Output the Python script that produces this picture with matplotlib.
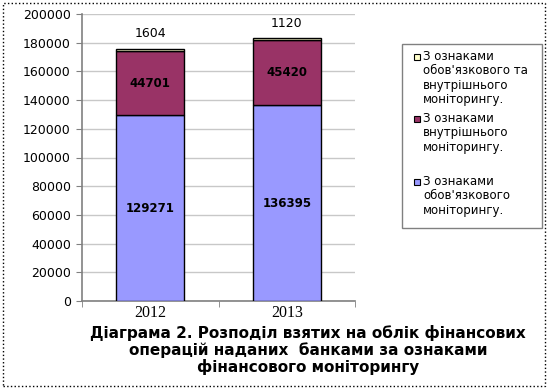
import matplotlib
matplotlib.use("Agg")
import matplotlib.pyplot as plt
from matplotlib.patches import Rectangle
import numpy as np

years = ["2012", "2013"]
mandatory = [129271, 136395]
internal = [44701, 45420]
both = [1604, 1120]
legend_labels = [
    "З ознаками\nобов'язкового та\nвнутрішнього\nмоніторингу.",
    "З ознаками\nвнутрішнього\nмоніторингу.",
    "З ознаками\nобов'язкового\nмоніторингу.",
]
caption = ("Діаграма 2. Розподіл взятих на облік фінансових\n"
           "операцій наданих  банками за ознаками\n"
           "фінансового моніторингу")
yticks = list(range(0, 200001, 20000))

c_blue = "#9999FF"
c_maroon = "#993366"
c_yellow = "#FFFFCC"

plt.rcParams['font.family'] = ['DejaVu Sans']

W, H = 548, 389
def fx(px):
    return px / W
def fy(py):
    return 1 - py / H

fig = plt.figure(figsize=(5.48, 3.89), dpi=100)
ax = fig.add_axes([fx(82), fy(301), (355-82)/W, (301-14)/H])

x = np.arange(len(years))
w = 0.5
m = np.array(mandatory); i = np.array(internal); b = np.array(both)
ax.bar(x, m, w, color=c_blue, edgecolor="black", linewidth=1.0, zorder=3)
ax.bar(x, i, w, bottom=m, color=c_maroon, edgecolor="black", linewidth=1.0, zorder=3)
ax.bar(x, b, w, bottom=m+i, color=c_yellow, edgecolor="black", linewidth=1.0, zorder=3)

for k in range(len(years)):
    ax.text(x[k], m[k]/2, f"{mandatory[k]}", ha="center", va="center",
            fontsize=8.5, fontweight="bold", zorder=4)
    ax.text(x[k], m[k] + i[k]/2, f"{internal[k]}", ha="center", va="center",
            fontsize=8.5, fontweight="bold", zorder=4)
    ax.annotate(f"{both[k]}", (x[k], m[k]+i[k]+b[k]), xytext=(0, 11),
                textcoords="offset points", ha="center", va="center",
                fontsize=9, zorder=4, annotation_clip=False)

ax.set_xlim(-0.5, 1.5)
ax.set_ylim(0, 200000)
ax.set_yticks(yticks)
ax.set_yticklabels([str(v) for v in yticks], fontsize=9)
ax.set_xticks(x)
ax.set_xticklabels(years, fontsize=11.5, fontfamily="Liberation Serif")
ax.set_xticks([-0.5, 0.5, 1.5], minor=True)
ax.tick_params(axis="x", which="major", length=0, pad=3)
ax.tick_params(axis="x", which="minor", length=4, color="#808080", direction="out")
ax.tick_params(axis="y", length=4, color="#808080", direction="out", pad=4)
ax.grid(axis="y", color="#C8C8C8", linewidth=1.0, zorder=0)
for s in ["top", "right"]:
    ax.spines[s].set_visible(False)
ax.spines["left"].set_color("#808080")
ax.spines["bottom"].set_color("#808080")
ax.spines["left"].set_linewidth(1.2)
ax.spines["bottom"].set_linewidth(1.2)
ax.set_facecolor("none")

# legend frame
fig.patches.append(Rectangle((fx(402), fy(228)), (542-402)/W, (228-44)/H,
                             transform=fig.transFigure, facecolor="white",
                             edgecolor="#808080", linewidth=1.0, zorder=1))
leg_colors = [c_yellow, c_maroon, c_blue]
leg_y = [57, 119, 182]
for col, lab, yy in zip(leg_colors, legend_labels, leg_y):
    fig.patches.append(Rectangle((fx(414), fy(yy + 3)), 6/W, 6/H,
                                 transform=fig.transFigure, facecolor=col,
                                 edgecolor="black", linewidth=0.8, zorder=2))
    fig.text(fx(423), fy(yy - 7), lab, ha="left", va="top", fontsize=8.5,
             linespacing=1.13, zorder=2)

fig.text(fx(308), fy(325), caption, ha="center", va="top", fontsize=11,
         fontweight="bold", linespacing=1.08)

fig.patches.append(Rectangle((fx(3), fy(386)), 542/W, 383/H,
                             transform=fig.transFigure, facecolor="none",
                             edgecolor="black", linewidth=1.0, linestyle=":",
                             zorder=5))

fig.savefig("out.png", dpi=100)
